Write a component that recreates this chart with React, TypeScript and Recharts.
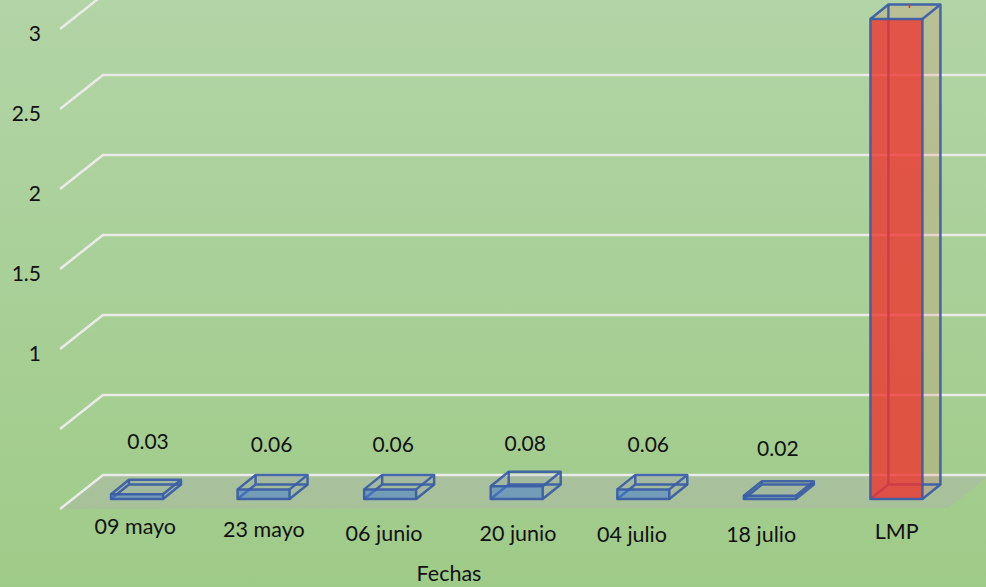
import React from "react";
import { ComposedChart, Bar, XAxis, YAxis, CartesianGrid, LabelList } from "recharts";

const categories = ["09 mayo", "23 mayo", "06 junio", "20 junio", "04 julio", "18 julio", "LMP"];
const values = [0.03, 0.06, 0.06, 0.08, 0.06, 0.02, 3];
const yTicks = [1, 1.5, 2, 2.5, 3];
const gridValues = [0, 0.5, 1, 1.5, 2, 2.5, 3];
const xAxisTitle = "Fechas";

const data = categories.map((category, i) => ({ category, value: values[i] }));

// Hand-placed text offsets of the original
const xLabelDx = [-2, 0, -6.4, 1, -11.6, -9, 0];
const xLabelY = [534, 536.5, 541, 541, 541.5, 542, 539];
const valueLabelDx = [11, 8, 3, 8.5, 5, 8, 0];
const valueLabelY = [449, 452, 452, 451, 452, 456, 0];

const FONT = "Lato, Carlito, sans-serif";
const W = 986;
const H = 587;
const STROKE = "#3A5CA6";
const DEPTH_X = 18;
const DEPTH_Y = 14.5;
const GRID_DX = 43;
const GRID_FRONT = 10;
const GRID_BACK = -24;

function Box(props: any) {
  const { x, y, width, height, payload } = props;
  const isLimit = payload.category === "LMP";
  const l = x;
  const r = x + width;
  const t = y;
  const b = y + height;
  const dx = DEPTH_X;
  const dy = DEPTH_Y;
  const frontFill = isLimit ? "rgba(237,53,47,0.8)" : "rgba(70,125,205,0.55)";
  const sideFill = isLimit ? "rgba(237,80,60,0.15)" : "rgba(120,130,170,0.12)";
  const edge = { stroke: STROKE, strokeWidth: 2.5, strokeLinejoin: "round" as const, fill: "none", strokeOpacity: 0.92 };
  return (
    <g>
      <path d={`M${r} ${t}L${r + dx} ${t - dy}L${r + dx} ${b - dy}L${r} ${b}Z`} fill={sideFill} />
      <path d={`M${l} ${t}L${l + dx} ${t - dy}L${r + dx} ${t - dy}L${r} ${t}Z`} fill={sideFill} />
      <path
        d={`M${l} ${b}L${l + dx} ${b - dy}L${l + dx} ${t - dy}M${l + dx} ${b - dy}L${r + dx} ${b - dy}`}
        {...edge}
      />
      <rect x={l} y={t} width={width} height={height} fill={frontFill} />
      <path
        d={`M${l} ${t}L${l + dx} ${t - dy}L${r + dx} ${t - dy}L${r} ${t}M${r + dx} ${t - dy}L${r + dx} ${b - dy}L${r} ${b}`}
        {...edge}
      />
      <rect x={l} y={t} width={width} height={height} {...edge} />
      {isLimit && <path d={`M${l + 39} ${t - 15}V${t - 11}`} stroke="#FF2020" strokeWidth={1.5} />}
    </g>
  );
}

function GridLine(props: any) {
  const { y1, index } = props;
  const isFloor = y1 > 490;
  const left = 60;
  const backLeft = left + GRID_DX;
  return (
    <g key={`grid-${index}-${y1}`}>
      {isFloor && (
        <path
          d={`M${left} ${y1 + GRID_FRONT}L${backLeft} ${y1 + GRID_BACK}L${W} ${y1 + GRID_BACK}L${W} ${y1 - 21}L${948} ${y1 + 9}Z`}
          fill="rgba(178,176,182,0.38)"
        />
      )}
      <path
        d={`M${left} ${y1 + GRID_FRONT}L${backLeft} ${y1 + GRID_BACK}L${W} ${y1 + GRID_BACK}`}
        fill="none"
        stroke="#E9ECE6"
        strokeWidth={2.5}
      />
    </g>
  );
}

function YTick(props: any) {
  const { y, payload } = props;
  return (
    <text x={41} y={y + 21.5} textAnchor="end" fontFamily={FONT} fontSize={21} fill="#111">
      {payload.value}
    </text>
  );
}

function XTick(props: any) {
  const { x, payload, index } = props;
  return (
    <text x={x + xLabelDx[index]} y={xLabelY[index]} textAnchor="middle" fontFamily={FONT} fontSize={21.5} fill="#111">
      {payload.value}
    </text>
  );
}

function ValueLabel(props: any) {
  const { x, width, value, index } = props;
  if (categories[index] === "LMP") return null;
  return (
    <text
      x={x + width / 2 + valueLabelDx[index]}
      y={valueLabelY[index]}
      textAnchor="middle"
      fontFamily={FONT}
      fontSize={21}
      fill="#111"
    >
      {value}
    </text>
  );
}

export default function App() {
  return (
    <div
      style={{
        position: "absolute",
        left: 0,
        top: 0,
        width: W,
        height: H,
        overflow: "hidden",
        background: "linear-gradient(180deg, #B2D4A6 0%, #9FCB88 100%)",
      }}
    >
      <ComposedChart
        width={W}
        height={H}
        data={data}
        margin={{ top: 19, right: 26, bottom: 0, left: 0 }}
      >
        <CartesianGrid vertical={false} horizontalValues={gridValues} horizontal={GridLine as any} />
        <YAxis
          width={74}
          domain={[0, 3]}
          ticks={yTicks}
          axisLine={false}
          tickLine={false}
          tick={<YTick />}
          interval={0}
        />
        <XAxis
          dataKey="category"
          height={88}
          axisLine={false}
          tickLine={false}
          tick={<XTick />}
          interval={0}
          label={{
            content: () => (
              <text x={449} y={581} textAnchor="middle" fontFamily={FONT} fontSize={21.5} fill="#111">
                {xAxisTitle}
              </text>
            ),
          }}
        />
        <Bar dataKey="value" barSize={52} isAnimationActive={false} shape={<Box />}>
          <LabelList dataKey="value" content={<ValueLabel />} />
        </Bar>
      </ComposedChart>
    </div>
  );
}
